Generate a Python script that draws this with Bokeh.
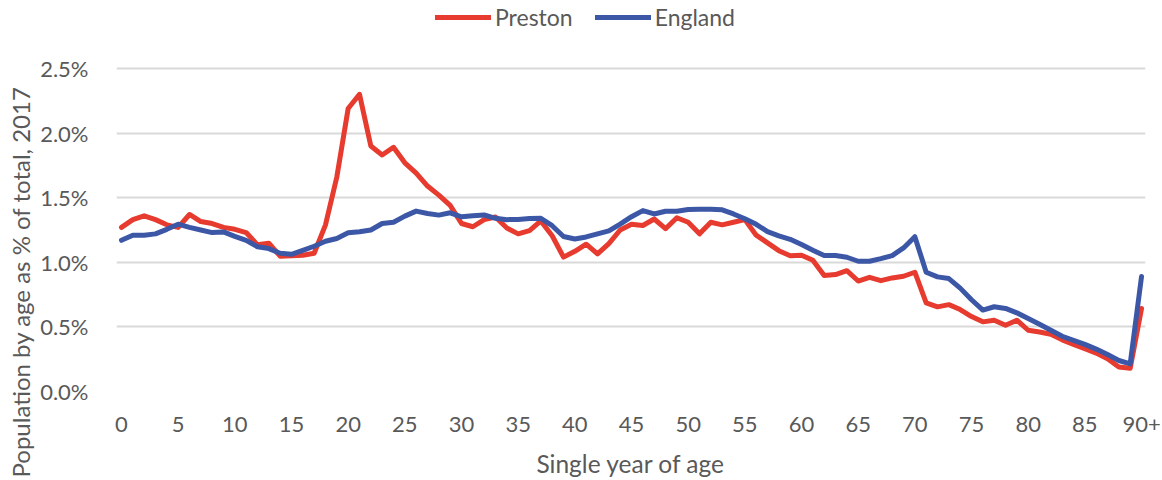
from bokeh.plotting import figure
from bokeh.models import Legend, LegendItem, FixedTicker, PrintfTickFormatter, Range1d, ColumnDataSource, Title
from bokeh.embed import file_html
from bokeh.resources import INLINE

ages = list(range(0, 91))

preston = [
    1.27, 1.33, 1.36, 1.33, 1.29, 1.27, 1.37, 1.315, 1.30, 1.27,
    1.255, 1.23, 1.135, 1.148, 1.047, 1.05, 1.055, 1.07, 1.29, 1.66,
    2.19, 2.30, 1.90, 1.83, 1.89, 1.77, 1.69, 1.59, 1.52, 1.44,
    1.30, 1.275, 1.33, 1.35, 1.265, 1.22, 1.245, 1.32, 1.205, 1.04,
    1.085, 1.14, 1.065, 1.145, 1.25, 1.295, 1.285, 1.335, 1.26, 1.345,
    1.31, 1.22, 1.31, 1.29, 1.31, 1.33, 1.21, 1.15, 1.09, 1.05,
    1.055, 1.015, 0.897, 0.905, 0.935, 0.855, 0.884, 0.858, 0.879, 0.892,
    0.923, 0.686, 0.655, 0.672, 0.634, 0.58, 0.539, 0.552, 0.513, 0.552,
    0.474, 0.461, 0.443, 0.40, 0.365, 0.331, 0.297, 0.253, 0.19, 0.18,
    0.643,
]

england = [
    1.17, 1.21, 1.21, 1.22, 1.255, 1.295, 1.27, 1.25, 1.23, 1.235,
    1.20, 1.17, 1.12, 1.106, 1.07, 1.062, 1.093, 1.124, 1.163, 1.184,
    1.228, 1.236, 1.25, 1.30, 1.31, 1.357, 1.396, 1.378, 1.365, 1.383,
    1.352, 1.36, 1.366, 1.34, 1.33, 1.332, 1.338, 1.34, 1.283, 1.20,
    1.18, 1.196, 1.22, 1.243, 1.296, 1.353, 1.40, 1.374, 1.395, 1.395,
    1.408, 1.41, 1.41, 1.406, 1.374, 1.337, 1.294, 1.237, 1.204, 1.178,
    1.137, 1.093, 1.052, 1.052, 1.039, 1.008, 1.008, 1.028, 1.052, 1.111,
    1.198, 0.923, 0.887, 0.874, 0.80, 0.71, 0.63, 0.656, 0.643, 0.609,
    0.565, 0.521, 0.474, 0.427, 0.396, 0.365, 0.328, 0.286, 0.24, 0.214,
    0.89,
]

x_ticks = list(range(0, 91, 5))
x_tick_overrides = {90: "90+"}
y_ticks = [0.0, 0.5, 1.0, 1.5, 2.0, 2.5]

series_names = ["Preston", "England"]
series_colors = ["#E63B2E", "#3D57A7"]

FONT = "Lato"
TEXT_COLOR = "#595959"

# frame spans the full height above the x axis, so the legend can sit inside it
p = figure(
    width=1162, height=480,
    output_backend="svg", toolbar_location=None,
    x_range=Range1d(-0.44, 90.35), y_range=Range1d(0, 3.026),
    min_border_left=115, min_border_right=17,
    min_border_top=0, min_border_bottom=89,
)
p.outline_line_color = None
p.background_fill_color = "white"
p.border_fill_color = "white"

src = ColumnDataSource(dict(age=ages, preston=preston, england=england))
r1 = p.line("age", "preston", source=src, color=series_colors[0], line_width=5,
            line_join="round", line_cap="round")
r2 = p.line("age", "england", source=src, color=series_colors[1], line_width=5,
            line_join="round", line_cap="round")

p.xgrid.visible = False
p.ygrid.grid_line_color = "#D9D9D9"
p.ygrid.grid_line_width = 2
p.ygrid.ticker = FixedTicker(ticks=y_ticks)

xa = p.xaxis[0]
xa.ticker = FixedTicker(ticks=x_ticks)
xa.major_label_overrides = x_tick_overrides
xa.axis_label = "Single year of age"
ya = p.yaxis[0]
ya.ticker = FixedTicker(ticks=y_ticks)
ya.formatter = PrintfTickFormatter(format="%.1f%%")

for ax in (xa, ya):
    ax.axis_line_color = None
    ax.major_tick_line_color = None
    ax.minor_tick_line_color = None
    ax.major_label_text_font = FONT
    ax.major_label_text_font_size = "22px"
    ax.major_label_text_color = TEXT_COLOR
    ax.axis_label_text_font = FONT
    ax.axis_label_text_font_size = "24.5px"
    ax.axis_label_text_font_style = "normal"
    ax.axis_label_text_color = TEXT_COLOR

xa.major_label_standoff = 19
xa.axis_label_standoff = 14
ya.major_label_standoff = 22

ytitle = Title(
    text="Population by age as % of total, 2017",
    align="left", offset=-86, standoff=6,
    text_font=FONT, text_font_size="24px", text_font_style="normal",
    text_color=TEXT_COLOR,
)
p.add_layout(ytitle, "left")

legend = Legend(
    items=[LegendItem(label=series_names[0], renderers=[r1]),
           LegendItem(label=series_names[1], renderers=[r2])],
    orientation="horizontal",
    location=(319, 360),
    border_line_color=None,
    background_fill_alpha=0,
    padding=0, margin=0, spacing=22,
    glyph_width=56, glyph_height=26, label_height=26,
    label_standoff=4,
    label_text_font=FONT, label_text_font_size="23px", label_text_color=TEXT_COLOR,
)
p.add_layout(legend, "center")

open("out.html", "w").write(file_html(p, INLINE))
